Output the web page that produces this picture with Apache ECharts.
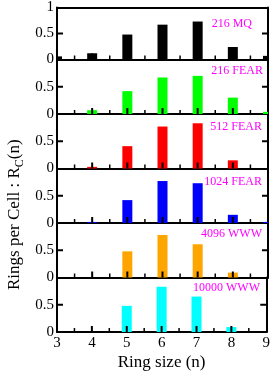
<!DOCTYPE html>
<html><head><meta charset="utf-8">
<script src="https://cdn.jsdelivr.net/npm/echarts@6/dist/echarts.min.js"></script>
<style>html,body{margin:0;padding:0;background:#fff}#c{width:273px;height:372px}</style>
</head><body><div id="c"></div>
<script>
const ringSizes = [3, 4, 5, 6, 7, 8, 9];
const xTicks = [3, 4, 5, 6, 7, 8, 9];
const xMinorTicks = [3.5, 4.5, 5.5, 6.5, 7.5, 8.5];
const yTicks = [0, 0.5, 1];
const labels = ['216 MQ', '216 FEAR', '512 FEAR', '1024 FEAR', '4096 WWW', '10000 WWW'];
const mq216 = [0.06, 0.12, 0.48, 0.67, 0.73, 0.24, 0.07];
const fear216 = [0, 0.07, 0.42, 0.67, 0.70, 0.30, 0.04];
const fear512 = [0, 0.03, 0.41, 0.77, 0.83, 0.15, 0];
const fear1024 = [0, 0.02, 0.42, 0.77, 0.73, 0.15, 0.02];
const www4096 = [0, 0, 0.48, 0.78, 0.61, 0.09, 0];
const www10000 = [0, 0, 0.48, 0.83, 0.65, 0.09, 0];
const colors = ['#000000', '#00ff00', '#ff0000', '#0000ff', '#ffa500', '#00ffff'];
const seriesValues = [mq216, fear216, fear512, fear1024, www4096, www10000];

const font = 'Liberation Serif';
const top0 = 5, ph = 54.5, left = 57, right = 5;
const barW = 10;
const labelRight = [252, 263, 262, 262, 262, 260];
const labelY = [25, 72, 128, 183, 235, 289];
const xMin = xTicks[0], xMax = xTicks[xTicks.length - 1];

function makeRender(color) {
  return function (params, api) {
    const x = api.value(0), y = api.value(1);
    if (!(y > 0)) return null;
    const p0 = api.coord([x, 0]);
    const p1 = api.coord([x, y]);
    const cs = params.coordSys;
    const rect = echarts.graphic.clipRectByRect(
      {x: p0[0] - barW / 2, y: p1[1], width: barW, height: p0[1] - p1[1]},
      {x: cs.x, y: cs.y, width: cs.width, height: cs.height});
    return rect ? {type: 'rect', shape: rect, style: {fill: color}} : null;
  };
}

// inward tick marks, placed through the axes' scales
function tickRender(params, api) {
  const kind = api.value(0), v = api.value(1);
  if (kind === 2) {
    const pl = api.coord([xMin, v]), pr = api.coord([xMax, v]);
    return {type: 'group', children: [
      {type: 'rect', shape: {x: pl[0], y: pl[1] - 1, width: 6, height: 2}, style: {fill: '#000'}},
      {type: 'rect', shape: {x: pr[0] - 6, y: pr[1] - 1, width: 6, height: 2}, style: {fill: '#000'}}
    ]};
  }
  const p = api.coord([v, 0]);
  const len = kind === 0 ? 6 : 4;
  const w = kind === 0 ? 2 : 1.5;
  return {type: 'rect', shape: {x: p[0] - w / 2, y: p[1] - len, width: w, height: len}, style: {fill: '#000'}};
}
const tickData = []
  .concat(xTicks.slice(1, -1).map(t => [0, t]))
  .concat(xMinorTicks.map(t => [1, t]))
  .concat(yTicks.slice(1, -1).map(t => [2, t]));

const grids = [], xAxes = [], yAxes = [], series = [], graphics = [];
for (let i = 0; i < 6; i++) {
  grids.push({left: left, right: right, top: top0 + i * ph, height: ph});
  const last = i === 5;
  xAxes.push({
    type: 'value', gridIndex: i, position: 'bottom', min: xMin, max: xMax, interval: 1,
    axisLine: {show: true, onZero: false, lineStyle: {color: '#000', width: 2}},
    axisTick: {show: false},
    splitLine: {show: false},
    axisLabel: {show: last, color: '#000', fontFamily: font, fontSize: 15, margin: 4},
    name: last ? 'Ring size (n)' : '', nameLocation: 'middle', nameGap: 22,
    nameTextStyle: {fontFamily: font, fontSize: 17, color: '#000'}
  });
  xAxes.push({
    type: 'value', gridIndex: i, position: 'top', min: xMin, max: xMax, interval: 1,
    axisLine: {show: true, onZero: false, lineStyle: {color: '#000', width: 2}},
    axisTick: {show: false}, axisLabel: {show: false}, splitLine: {show: false}
  });
  yAxes.push({
    type: 'value', gridIndex: i, position: 'left', min: yTicks[0], max: yTicks[2], interval: 0.5,
    axisLine: {show: true, onZero: false, lineStyle: {color: '#000', width: 2}},
    axisTick: {show: false},
    splitLine: {show: false},
    axisLabel: {color: '#000', fontFamily: font, fontSize: 15, margin: 3,
      formatter: v => (v === 1 && i > 0) ? '' : String(v)}
  });
  yAxes.push({
    type: 'value', gridIndex: i, position: 'right', min: yTicks[0], max: yTicks[2], interval: 0.5,
    axisLine: {show: true, onZero: false, lineStyle: {color: '#000', width: 2}},
    axisTick: {show: false}, splitLine: {show: false}, axisLabel: {show: false}
  });
  series.push({
    type: 'custom', xAxisIndex: 2 * i, yAxisIndex: 2 * i, z: 2,
    renderItem: makeRender(colors[i]),
    encode: {x: 0, y: 1},
    data: ringSizes.map((n, k) => [n, seriesValues[i][k]])
  });
  series.push({
    type: 'custom', xAxisIndex: 2 * i, yAxisIndex: 2 * i, z: 3, silent: true,
    renderItem: tickRender,
    dimensions: ['kind', 'v'],
    encode: {x: 'v'},
    data: tickData
  });
  graphics.push({
    type: 'text', right: 273 - labelRight[i], top: labelY[i] - 7,
    style: {text: labels[i], fill: '#ff00ff', font: '12px "Liberation Serif"'}
  });
}
graphics.push({
  type: 'text', rotation: Math.PI / 2, x: 4, y: 290, originX: 0, originY: 0,
  style: {
    text: '{a|Rings per Cell : R}{b|C}{a|(n)}',
    rich: {
      a: {fontFamily: font, fontSize: 17, fill: '#000'},
      b: {fontFamily: font, fontSize: 12, fill: '#000', padding: [10, 0, 0, 0]}
    }
  }
});
const chart = echarts.init(document.getElementById('c'), null, {renderer: 'canvas'});
chart.setOption({
  animation: false,
  grid: grids, xAxis: xAxes, yAxis: yAxes, series: series, graphic: graphics
});
</script></body></html>
